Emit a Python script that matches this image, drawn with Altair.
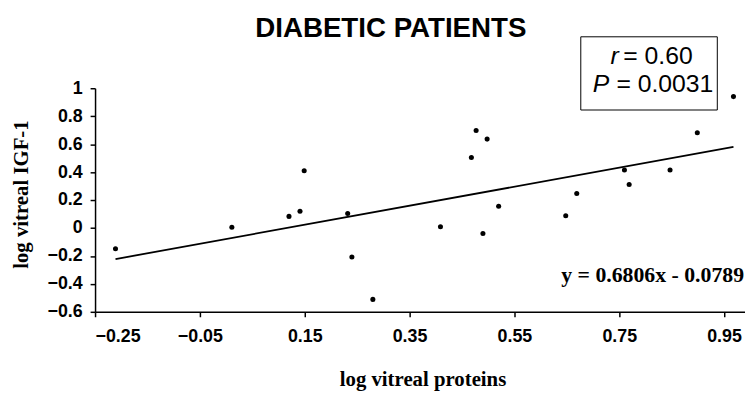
import altair as alt
import pandas as pd

# Data
x_vals = [-0.211, 0.011, 0.120, 0.141, 0.149, 0.232, 0.240, 0.280, 0.409, 0.468, 0.477,
          0.498, 0.490, 0.520, 0.648, 0.669, 0.760, 0.769, 0.847, 0.899, 0.968]
y_vals = [-0.148, 0.005, 0.083, 0.120, 0.410, 0.104, -0.207, -0.511, 0.009, 0.504, 0.697,
          0.636, -0.040, 0.155, 0.087, 0.247, 0.415, 0.311, 0.415, 0.681, 0.940]
slope = 0.6806
intercept = -0.0789
x_ticks = [-0.25, -0.05, 0.15, 0.35, 0.55, 0.75, 0.95]
y_ticks = [-0.6, -0.4, -0.2, 0, 0.2, 0.4, 0.6, 0.8, 1]
title_text = "DIABETIC PATIENTS"
x_title = "log vitreal proteins"
y_title = "log vitreal IGF-1"
equation = "y = 0.6806x - 0.0789"

pts = pd.DataFrame({"x": x_vals, "y": y_vals})
xmin, xmax = min(x_vals), max(x_vals)
fit = pd.DataFrame({"x": [xmin, xmax], "y": [slope * xmin + intercept, slope * xmax + intercept]})

W, H = 657, 226

xscale = alt.Scale(domain=[-0.25, 0.99], nice=False, zero=False)
yscale = alt.Scale(domain=[-0.6, 1.0], nice=False, zero=False)

xaxis = alt.Axis(values=x_ticks, format=".2f", title=x_title, grid=False,
                 titleX=331, titleY=74, titleBaseline="alphabetic",
                 labelPadding=11, labelOverlap=False)
yaxis = alt.Axis(values=y_ticks, title=y_title, grid=False,
                 titleX=-68, titleY=107, titleBaseline="alphabetic", titleAngle=270,
                 labelPadding=8, labelOverlap=False,
                 labelExpr="datum.value == 0 ? '0' : (datum.value == 1 ? '1' : format(datum.value, '.1f'))")

points = alt.Chart(pts).mark_circle(size=26, color="black", opacity=1).encode(
    x=alt.X("x:Q", scale=xscale, axis=xaxis),
    y=alt.Y("y:Q", scale=yscale, axis=yaxis),
)

line = alt.Chart(fit).mark_line(color="black", strokeWidth=1.8).encode(
    x=alt.X("x:Q", scale=xscale, axis=xaxis),
    y=alt.Y("y:Q", scale=yscale, axis=yaxis),
)

one = pd.DataFrame({"a": [0]})

box = alt.Chart(one).mark_rect(fill="white", stroke="black", strokeWidth=1).encode(
    x=alt.value(491), x2=alt.value(629), y=alt.value(-52), y2=alt.value(22)
)

def txt(s, x, y, size, font="Liberation Sans", weight="normal", style="normal", align="left", baseline="alphabetic"):
    return alt.Chart(one).mark_text(
        text=s, font=font, fontSize=size, fontWeight=weight, fontStyle=style,
        align=align, baseline=baseline, color="black"
    ).encode(x=alt.value(x), y=alt.value(y))

title = txt(title_text, 299, 35 - 86.7, 28, weight="bold", align="center")
r_i = txt("r", 617 - 96, 62 - 86.7, 25, style="italic")
r_t = txt("= 0.60", 630 - 96, 62 - 86.7, 25)
p_i = txt("P", 599 - 96, 90 - 86.7, 25, style="italic")
p_t = txt("= 0.0031", 623 - 96, 90 - 86.7, 25)
eq = txt(equation, 752 - 96, 283 - 86.7, 22, font="Liberation Serif", weight="bold", align="right")

chart = alt.layer(points, line, box, r_i, r_t, p_i, p_t, eq, title).properties(
    width=W, height=H,
    padding={"left": 88, "top": 79, "right": 0, "bottom": 84},
    autosize=alt.AutoSizeParams(type="none"),
).configure_view(stroke=None).configure_axis(
    domainColor="black", domainWidth=1.5, tickColor="black", tickWidth=1.5, tickSize=5,
    labelFont="Liberation Sans", labelFontWeight="bold", labelFontSize=18, labelColor="black",
    labelOverlap=False,
    titleFont="Liberation Serif", titleFontWeight="bold", titleFontSize=21, titleColor="black",
)

chart.save("out.html", embed_options={"renderer": "svg", "actions": False})
